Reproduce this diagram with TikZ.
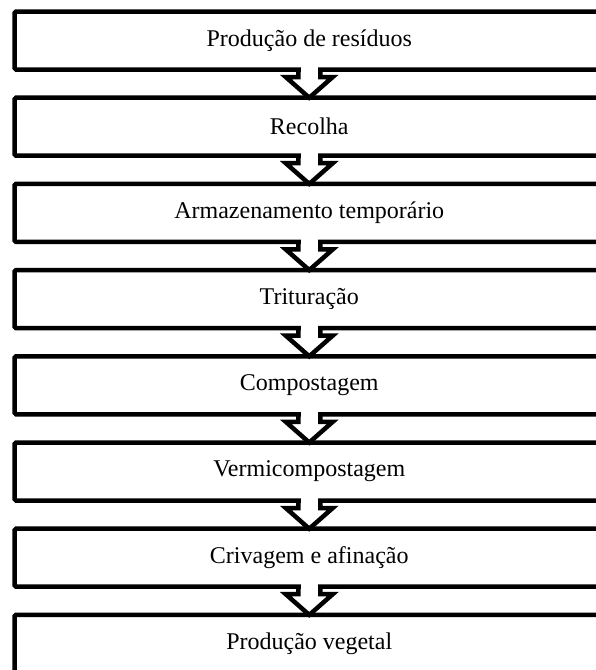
\documentclass[tikz,border=0pt]{standalone}
\usepackage{fontspec}
\setmainfont{Liberation Serif}
\usetikzlibrary{calc}

\newcommand{\descer}[2]{%
    \fill[white] ($(#1.south)+(-8.75,-3)$) rectangle ($(#1.south)+(8.75,3)$);
    \draw[line width=4.5pt, line join=miter] ($(#1.south)+(-11,0)$) -- ++(0,7.5) -- ++(-12.5,0) -- (#2.north)
        -- ($(#1.south)+(23.5,7.5)$) -- ++(-12.5,0) -- ++(0,-7.5);
}

\begin{document}
\begin{tikzpicture}[x=1pt, y=-1pt, every node/.style={rectangle, draw, line width=4.5pt, rounded corners=1.5pt, outer sep=0pt, minimum width=589.5pt, minimum height=58pt, font=\fontsize{24}{28}\selectfont}]
    \useasboundingbox (0,0) rectangle (596,670);
    \clip (0,0) rectangle (596,670);

    \node (A) at (309.25,40.5) {Produção de resíduos};
    \node (B) at (309.25,126.7) {Recolha};
    \node (C) at (309.25,212.9) {Armazenamento temporário};
    \node (D) at (309.25,299.1) {Trituração};
    \node (E) at (309.25,385.3) {Compostagem};
    \node (F) at (309.25,471.5) {Vermicompostagem};
    \node (G) at (309.25,557.7) {Crivagem e afinação};
    \node (H) at (309.25,643.9) {Produção vegetal};

    \descer{A}{B}
    \descer{B}{C}
    \descer{C}{D}
    \descer{D}{E}
    \descer{E}{F}
    \descer{F}{G}
    \descer{G}{H}
\end{tikzpicture}
\end{document}
